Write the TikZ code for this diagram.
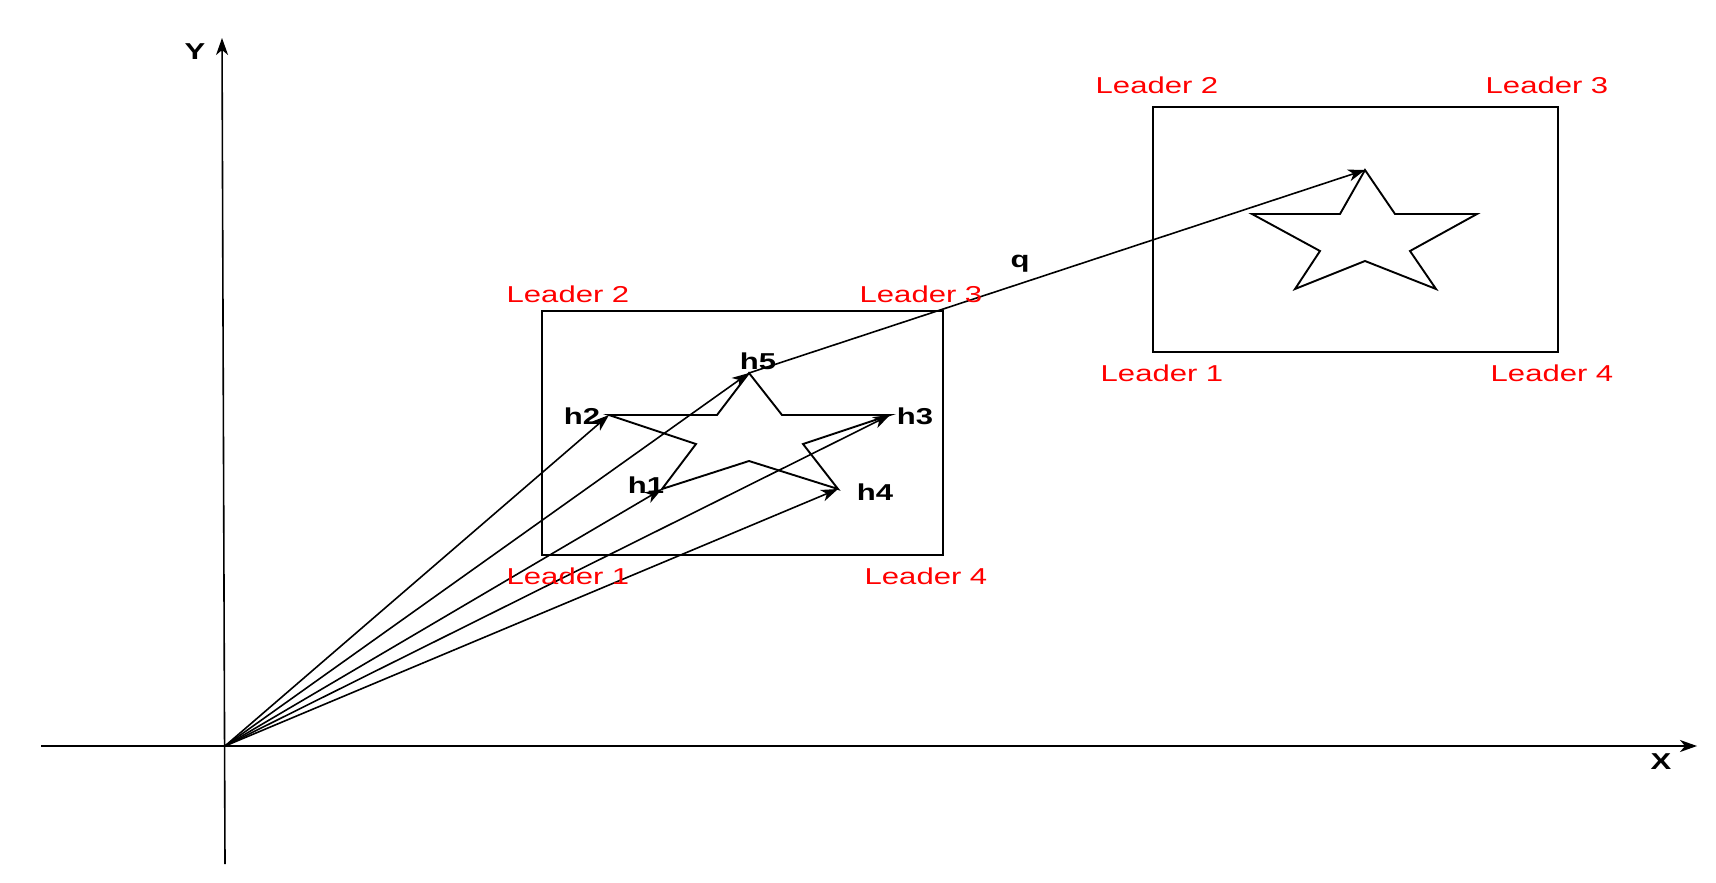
\documentclass[tikz,border=0pt]{standalone}
\usepackage{fontspec}
\setmainfont{Liberation Sans}
\newfontfamily\widesans{Liberation Sans}[FakeStretch=1.35]
\usetikzlibrary{arrows.meta}
\tikzset{
  ln/.style={line width=1.9pt},
  vec/.style={line width=1.6pt,-{Stealth[length=17pt,width=12pt,inset=5pt]}},
  leader/.style={text=red,font=\widesans\fontsize{23}{23}\selectfont},
  hlab/.style={font=\widesans\fontsize{23}{23}\selectfont\bfseries}
}
\begin{document}
\begin{tikzpicture}[x=1pt,y=-1pt]
	\useasboundingbox (0,0) rectangle (1716,883);
	
	% Achsen
	\coordinate (O) at (225,746);
	\coordinate (ytop) at (222,38);
	\coordinate (ybot) at (225,864);
	\coordinate (xl) at (41,746);
	\coordinate (xr) at (1697,746);
	\draw [vec] (ybot)--(ytop);
	\draw [vec] (xl)--(xr);
	\node [hlab] (Ylab) at (195,52) {Y};
	\node [hlab] (Xlab) at (1661,762) {X};
	
	% Rechtecke
	\draw [ln] (542,311) rectangle (943,555);
	\draw [ln] (1153,107) rectangle (1558,352);
	
	% Sterne
	\coordinate (h5) at (749,373);
	\coordinate (h2) at (609,415);
	\coordinate (h3) at (890,415);
	\coordinate (h1) at (662,489);
	\coordinate (h4) at (838,489);
	\draw [ln] (h5)--(782,415)--(h3)--(803,444)--(h4)--(749,461)--(h1)--(696,444)--(h2)--(717,415)--cycle;
	\coordinate (s5) at (1365,170);
	\draw [ln] (s5)--(1395,214)--(1477,214)--(1410,251)--(1436,289)--(1365,261)--(1295,289)--(1320,251)--(1252,214)--(1340,214)--cycle;
	
	% Vektoren
	\foreach \t in {h1,h2,h3,h4,h5}
		\draw [vec] (O)--(\t);
	\draw [vec] (h5)--(s5);
	
	% Beschriftungen
	\node [hlab] (l5) at (758,361) {h5};
	\node [hlab] (l2) at (582,416) {h2};
	\node [hlab] (l3) at (915,416) {h3};
	\node [hlab] (l1) at (646,485) {h1};
	\node [hlab] (l4) at (875,492) {h4};
	\node [hlab] (lq) at (1020,264) {q};
	
	\node [leader] (a2) at (568,294) {Leader 2};
	\node [leader] (a3) at (921,294) {Leader 3};
	\node [leader] (a1) at (568,576) {Leader 1};
	\node [leader] (a4) at (926,576) {Leader 4};
	\node [leader] (b2) at (1157,85) {Leader 2};
	\node [leader] (b3) at (1547,85) {Leader 3};
	\node [leader] (b1) at (1162,373) {Leader 1};
	\node [leader] (b4) at (1552,373) {Leader 4};
	
\end{tikzpicture}
\end{document}
